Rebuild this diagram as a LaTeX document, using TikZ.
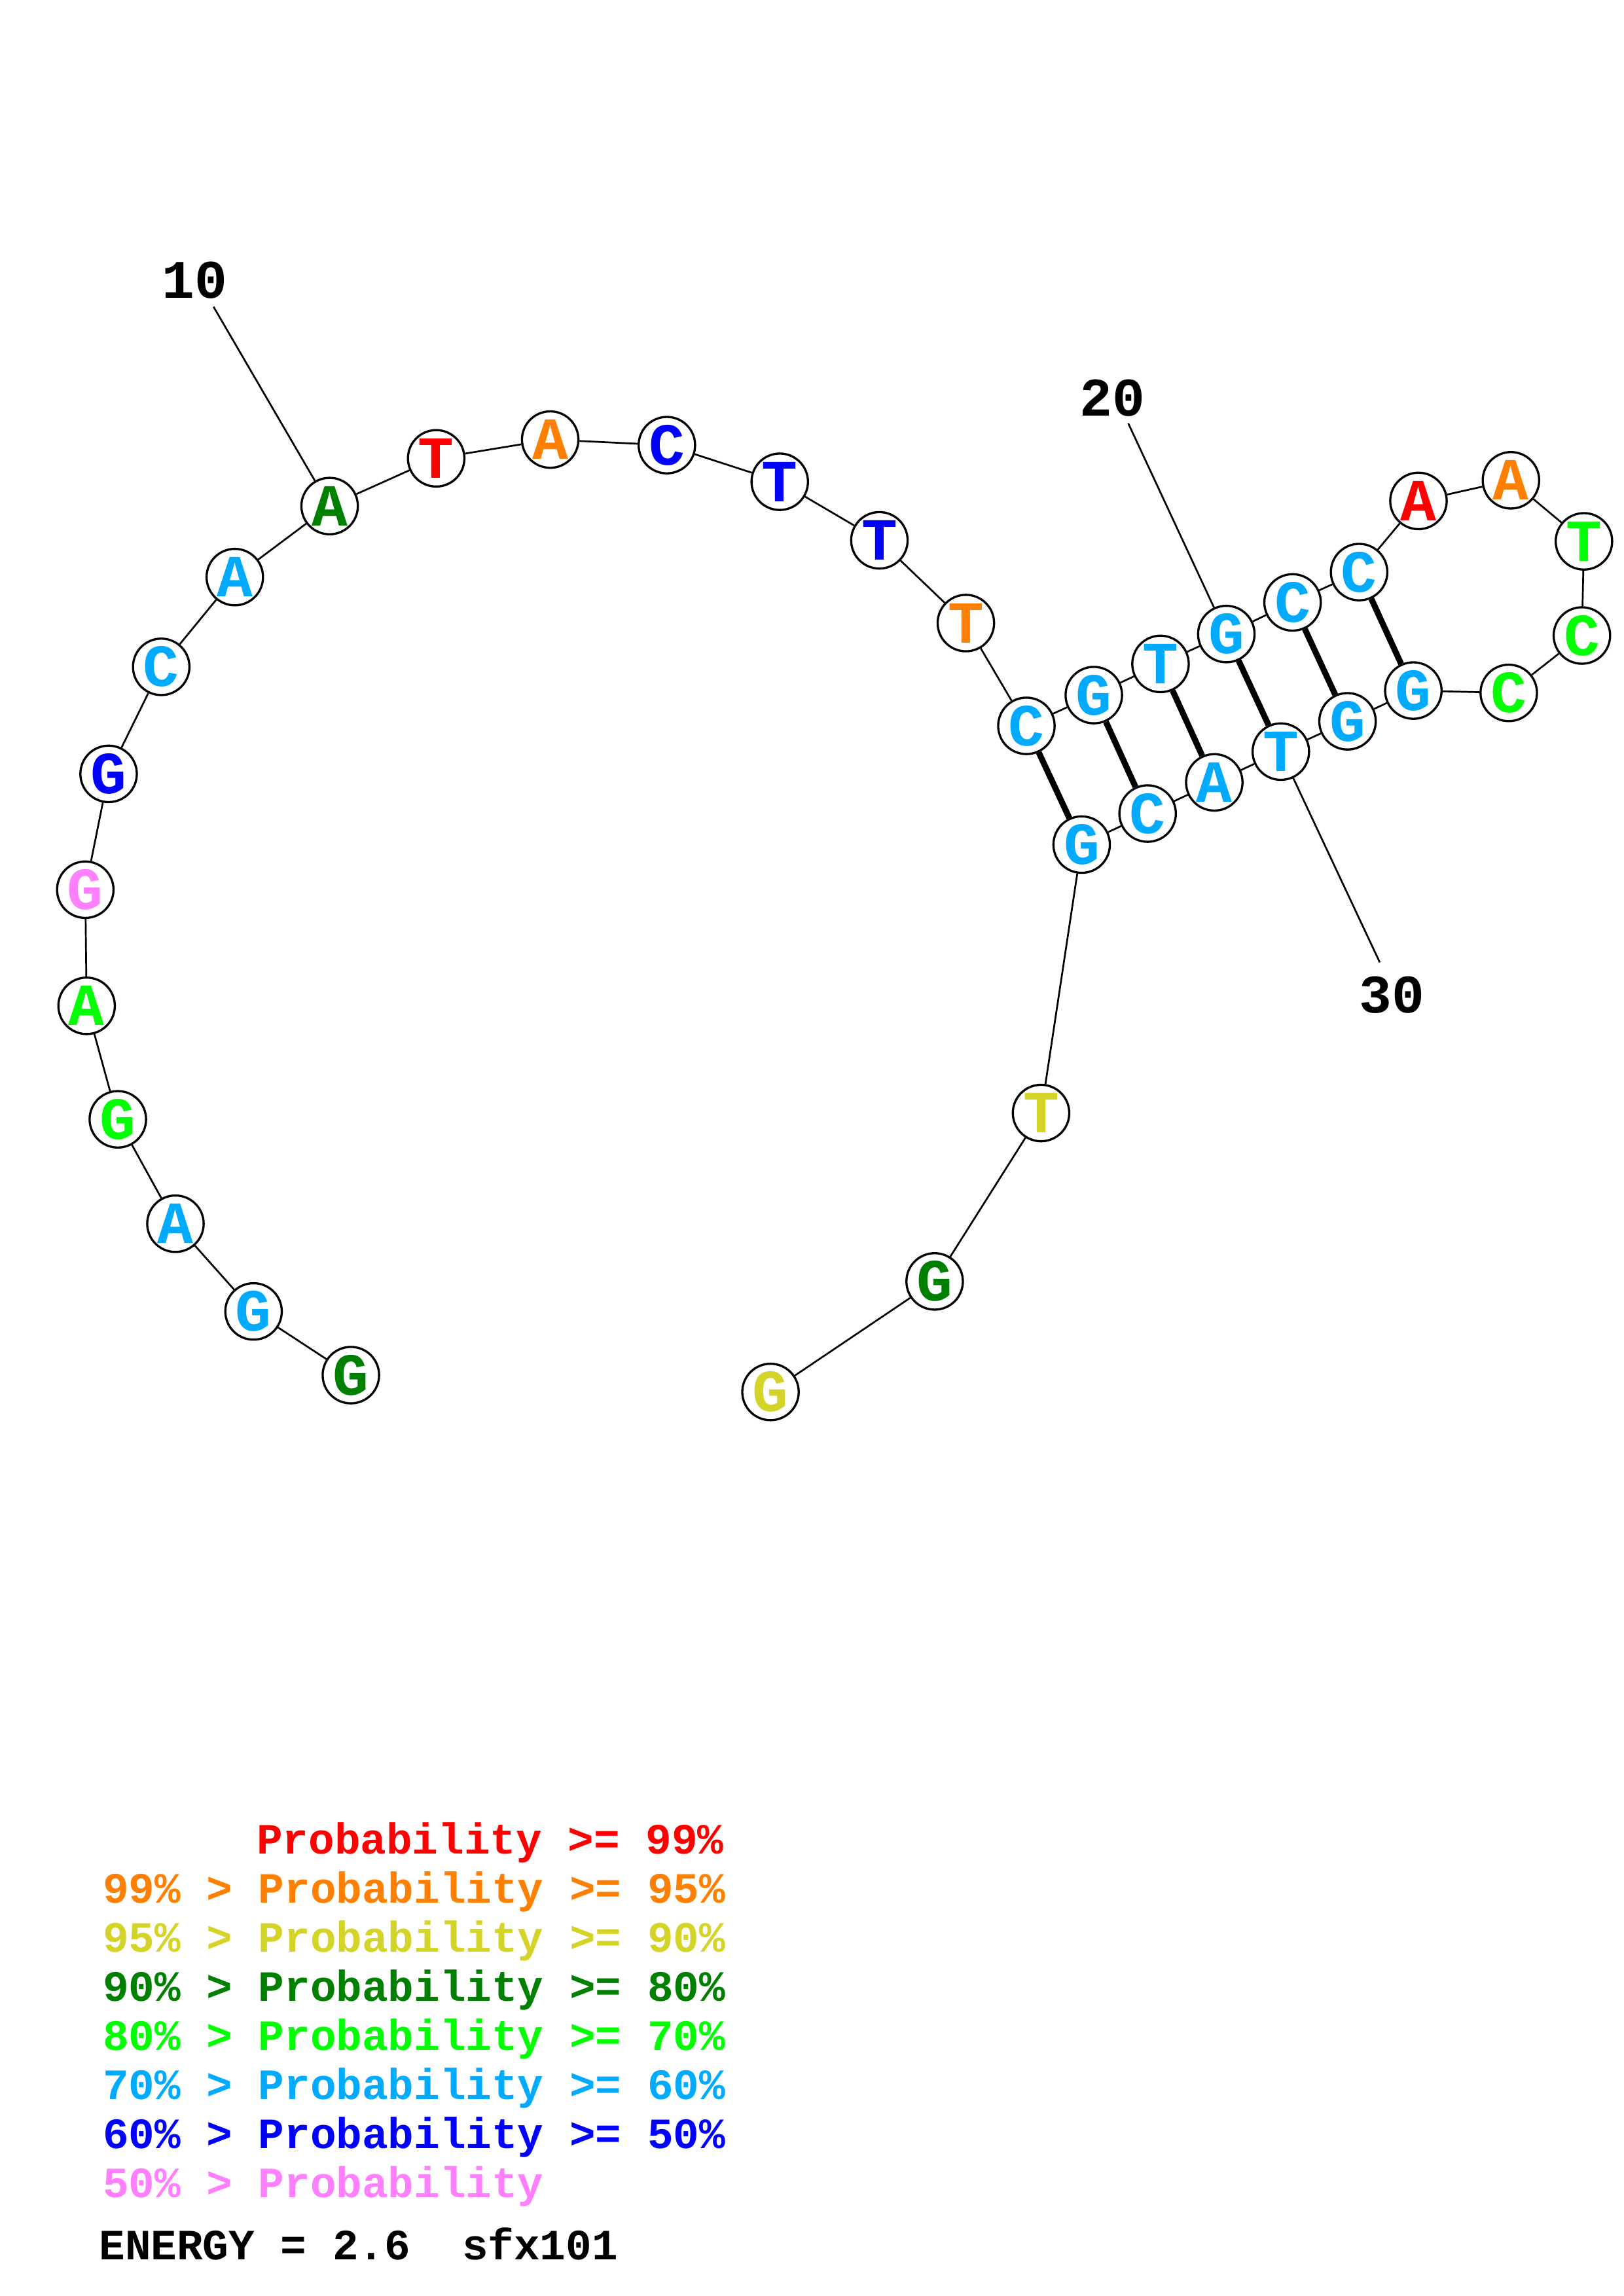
\documentclass[tikz,border=0pt]{standalone}
\usepackage{fontspec}
\setmonofont{Liberation Mono}
\usetikzlibrary{positioning}

\definecolor{pred}{RGB}{255,0,0}
\definecolor{porange}{RGB}{255,128,0}
\definecolor{pyellow}{RGB}{212,212,40}
\definecolor{pdkgreen}{RGB}{0,128,0}
\definecolor{pgreen}{RGB}{0,255,0}
\definecolor{psky}{RGB}{0,170,255}
\definecolor{pblue}{RGB}{0,0,255}
\definecolor{ppink}{RGB}{255,128,255}

\begin{document}
\begin{tikzpicture}[
  x=0.018953cm, y=-0.018941cm,
  nt/.style={circle, draw, line width=0.8pt, fill=white, minimum size=0.73cm, inner sep=0pt, font=\fontsize{22}{22}\selectfont\ttfamily\bfseries},
  bb/.style={line width=0.65pt},
  bp/.style={line width=2.2pt},
  num/.style={inner sep=0pt, font=\fontsize{20}{20}\selectfont\ttfamily\bfseries},
  leg/.style={anchor=base west, inner sep=0pt, font=\fontsize{15.9}{15.9}\selectfont\ttfamily\bfseries}
]
\useasboundingbox (0,0) rectangle (1108,1568);

% bases, 5' to 3'
\node[nt, text=pdkgreen] (n1) at (239.4,939.1) {G};
\node[nt, text=psky] (n2) at (173,895.6) {G};
\node[nt, text=psky] (n3) at (119.7,835.7) {A};
\node[nt, text=pgreen] (n4) at (80.4,764.4) {G};
\node[nt, text=pgreen] (n5) at (59.1,686.9) {A};
\node[nt, text=ppink] (n6) at (58.2,607.6) {G};
\node[nt, text=pblue] (n7) at (74.1,528.5) {G};
\node[nt, text=psky] (n8) at (110,455.4) {C};
\node[nt, text=psky] (n9) at (160.2,394.1) {A};
\node[nt, text=pdkgreen] (n10) at (224.9,345.6) {A};
\node[nt, text=pred] (n11) at (297.6,313) {T};
\node[nt, text=porange] (n12) at (375.4,300.2) {A};
\node[nt, text=pblue] (n13) at (455,304) {C};
\node[nt, text=pblue] (n14) at (532,329) {T};
\node[nt, text=pblue] (n15) at (600,369) {T};
\node[nt, text=porange] (n16) at (659,425.5) {T};
\node[nt, text=psky] (n17) at (700.3,495.7) {C};
\node[nt, text=psky] (n18) at (746.3,474.7) {G};
\node[nt, text=psky] (n19) at (791.8,453.4) {T};
\node[nt, text=psky] (n20) at (836.7,433) {G};
\node[nt, text=psky] (n21) at (881.9,411.4) {C};
\node[nt, text=psky] (n22) at (927.3,390.7) {C};
\node[nt, text=pred] (n23) at (967.8,342.1) {A};
\node[nt, text=porange] (n24) at (1030.9,328) {A};
\node[nt, text=pgreen] (n25) at (1080.7,369.7) {T};
\node[nt, text=pgreen] (n26) at (1079.3,434) {C};
\node[nt, text=pgreen] (n27) at (1029.4,473.2) {C};
\node[nt, text=psky] (n28) at (964.3,471.6) {G};
\node[nt, text=psky] (n29) at (919.4,492.6) {G};
\node[nt, text=psky] (n30) at (873.9,513.3) {T};
\node[nt, text=psky] (n31) at (828.5,534.3) {A};
\node[nt, text=psky] (n32) at (783,555.6) {C};
\node[nt, text=psky] (n33) at (738,576.8) {G};
\node[nt, text=pyellow] (n34) at (710.3,760.1) {T};
\node[nt, text=pdkgreen] (n35) at (637.7,875.1) {G};
\node[nt, text=pyellow] (n36) at (525.7,950.6) {G};

% backbone
\draw[bb] (n1) -- (n2) -- (n3) -- (n4) -- (n5) -- (n6) -- (n7) -- (n8) -- (n9) -- (n10) -- (n11) -- (n12);
\draw[bb] (n12) -- (n13) -- (n14) -- (n15) -- (n16) -- (n17) -- (n18) -- (n19) -- (n20) -- (n21) -- (n22) -- (n23) -- (n24);
\draw[bb] (n24) -- (n25) -- (n26) -- (n27) -- (n28) -- (n29) -- (n30) -- (n31) -- (n32) -- (n33) -- (n34) -- (n35) -- (n36);

% base pairs
\draw[bp] (n17) -- (n33);
\draw[bp] (n18) -- (n32);
\draw[bp] (n19) -- (n31);
\draw[bp] (n20) -- (n30);
\draw[bp] (n21) -- (n29);
\draw[bp] (n22) -- (n28);

% position marks
\coordinate (t10) at (145.7,209.5);
\coordinate (t20) at (769.8,289.1);
\coordinate (t30) at (941.4,657.2);
\draw[bb] (n10) -- (t10);
\draw[bb] (n20) -- (t20);
\draw[bb] (n30) -- (t30);
\node[num] (l10) at (133,191.4) {10};
\node[num] (l20) at (759,271.8) {20};
\node[num] (l30) at (949.5,679.3) {30};

% legend
\node[leg, text=pred] (k1) at (174.8,1266) {Probability >= 99\%};
\node[leg, text=porange] (k2) at (69.8,1299.5) {99\% > Probability >= 95\%};
\node[leg, text=pyellow] (k3) at (69.8,1333) {95\% > Probability >= 90\%};
\node[leg, text=pdkgreen] (k4) at (69.8,1366.5) {90\% > Probability >= 80\%};
\node[leg, text=pgreen] (k5) at (69.8,1400) {80\% > Probability >= 70\%};
\node[leg, text=psky] (k6) at (69.8,1433.5) {70\% > Probability >= 60\%};
\node[leg, text=pblue] (k7) at (69.8,1467) {60\% > Probability >= 50\%};
\node[leg, text=ppink] (k8) at (69.8,1500.5) {50\% > Probability};
\node[leg] (energy) at (67.3,1543) {ENERGY = 2.6\ \ sfx101};
\end{tikzpicture}
\end{document}
